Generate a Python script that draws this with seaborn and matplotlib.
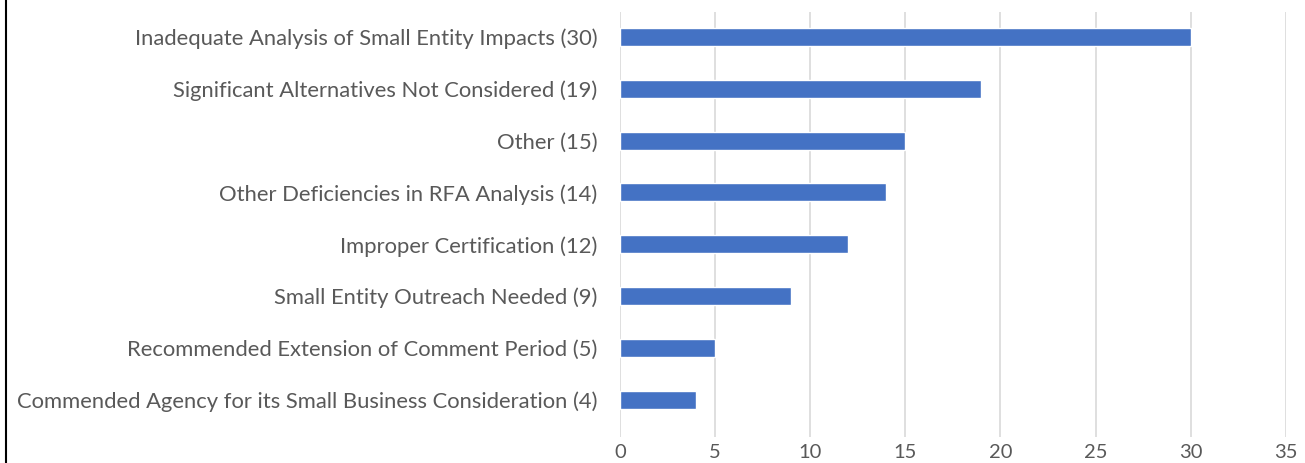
import matplotlib
matplotlib.use("Agg")
import matplotlib.pyplot as plt
import seaborn as sns
import pandas as pd
from matplotlib.lines import Line2D

# comment-letter issue categories and counts
categories = [
    "Inadequate Analysis of Small Entity Impacts (30)",
    "Significant Alternatives Not Considered (19)",
    "Other (15)",
    "Other Deficiencies in RFA Analysis (14)",
    "Improper Certification (12)",
    "Small Entity Outreach Needed (9)",
    "Recommended Extension of Comment Period (5)",
    "Commended Agency for its Small Business Consideration (4)",
]
counts = [30, 19, 15, 14, 12, 9, 5, 4]
x_ticks = [0, 5, 10, 15, 20, 25, 30, 35]

df = pd.DataFrame({"category": categories, "count": counts})

sns.set_theme(style="white")
plt.rcParams["font.family"] = ["Lato", "DejaVu Sans"]

fig = plt.figure(figsize=(13.05, 4.63), dpi=100)
ax = fig.add_axes([0.475, 0.056, 0.5104, 0.918])

sns.barplot(data=df, x="count", y="category", color="#4472C4",
            saturation=1, width=0.35, ax=ax, zorder=3)

ax.set_xlim(0, 35)
ax.set_ylim(7.72, -0.48)
ax.set_xticks(x_ticks)
ax.xaxis.grid(True, color="#D9D9D9", linewidth=1.2, zorder=0)
ax.set_xlabel("")
ax.set_ylabel("")
for s in ax.spines.values():
    s.set_visible(False)
ax.tick_params(axis="both", length=0, colors="#595959")
ax.tick_params(axis="y", pad=16, labelsize=15.8)
ax.tick_params(axis="x", pad=5, labelsize=14.5)

# thin frame line on the left edge of the picture
fig.add_artist(Line2D([0.0045, 0.0045], [0, 1], color="black", linewidth=1.5,
                      transform=fig.transFigure))

fig.savefig("out.png", dpi=100)
